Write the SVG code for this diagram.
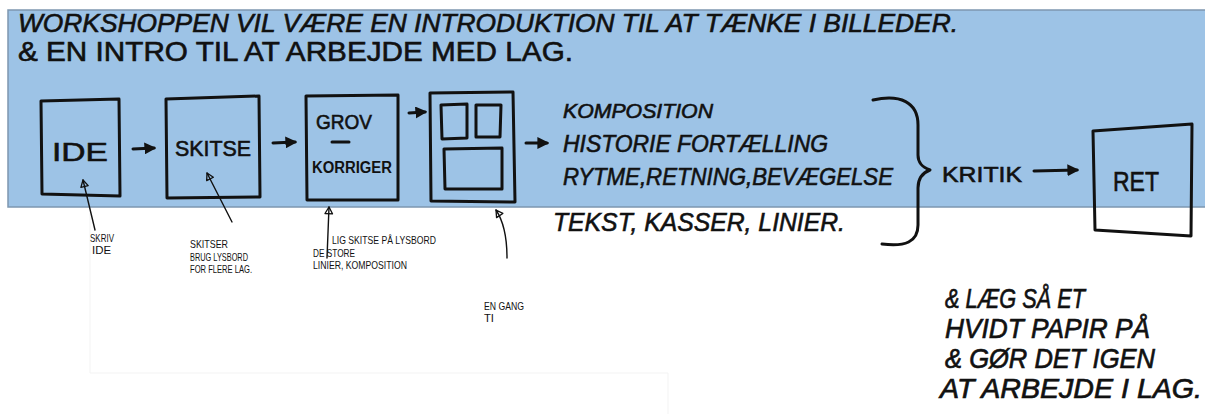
<svg xmlns="http://www.w3.org/2000/svg" width="1205" height="414" viewBox="0 0 1205 414">
<style>
.ink{fill:none;stroke:#111;stroke-width:3;stroke-linejoin:round;stroke-linecap:round}
.thin{fill:none;stroke:#111;stroke-width:1.4;stroke-linecap:round}
.hand{font-family:"Liberation Sans","DejaVu Sans",sans-serif;fill:#111;stroke:#111;stroke-width:0.6;font-weight:normal}
.b{font-weight:bold;stroke-width:0}
.it{font-style:italic}
.small{font-family:"Liberation Sans","DejaVu Sans",sans-serif;fill:#111;font-size:11.5px}
.big{font-family:"Liberation Sans","DejaVu Sans",sans-serif;fill:#111;stroke:#111;stroke-width:0.7;font-size:28px;font-style:italic}
</style>
<defs>
<marker id="ah" viewBox="0 0 10 10" refX="8" refY="5" markerWidth="4" markerHeight="4" orient="auto">
<path d="M0,0 L10,5 L0,10 Z" fill="#111"/>
</marker>
<marker id="oh" viewBox="0 0 12 12" refX="10" refY="6" markerWidth="10" markerHeight="10" orient="auto" markerUnits="userSpaceOnUse">
<path d="M2,1.5 L10,6 L2,10.5 Z" fill="none" stroke="#111" stroke-width="1.6" stroke-linejoin="round"/>
</marker>
</defs>
<rect x="0" y="0" width="1205" height="414" fill="#fff"/>
<path d="M90,207 L90,373 L668,373 L668,414" fill="none" stroke="#f3f3f3" stroke-width="1"/>
<rect id="band" x="8" y="10" width="1205" height="197" fill="#9dc3e6" stroke="#7d97b0" stroke-width="1.5"/>

<g id="title">
<text class="hand it" x="18" y="32" font-size="25" textLength="940" lengthAdjust="spacingAndGlyphs">WORKSHOPPEN VIL VÆRE EN INTRODUKTION TIL AT TÆNKE I BILLEDER.</text>
<text class="hand" x="18" y="61" font-size="27" textLength="555" lengthAdjust="spacingAndGlyphs">&amp; EN INTRO TIL AT ARBEJDE MED LAG.</text>
</g>

<g id="ide">
<path class="ink" d="M41,101 L119,99 L120,196 L42,194 Z"/>
<text class="hand" x="80" y="161" font-size="26" text-anchor="middle" textLength="56" lengthAdjust="spacingAndGlyphs">IDE</text>
</g>

<g id="skitse">
<path class="ink" d="M166,99 L259,96 L260,197 L167,198 Z"/>
<text class="hand" x="213" y="156" font-size="22" text-anchor="middle" textLength="76" lengthAdjust="spacingAndGlyphs">SKITSE</text>
</g>

<g id="grov">
<path class="ink" d="M306,96 L398,95 L398,200 L307,200 Z"/>
<text class="hand" x="316" y="129" font-size="20" textLength="56" lengthAdjust="spacingAndGlyphs">GROV</text>
<path class="ink" d="M332,142 L349,142"/>
<text class="hand b" x="312" y="173" font-size="16" textLength="80" lengthAdjust="spacingAndGlyphs">KORRIGER</text>
</g>

<g id="panel">
<path class="ink" d="M430,93 L513,92 L515,202 L431,201 Z"/>
<path class="ink" d="M441,105 L467,104 L467,138 L442,139 Z"/>
<path class="ink" d="M476,105 L501,105 L500,137 L476,137 Z"/>
<path class="ink" d="M444,149 L502,148 L502,189 L445,189 Z"/>
</g>

<g id="aspects">
<text class="hand it" x="563" y="118" font-size="20" textLength="150" lengthAdjust="spacingAndGlyphs">KOMPOSITION</text>
<text class="hand it" x="563" y="152" font-size="24" textLength="265" lengthAdjust="spacingAndGlyphs">HISTORIE FORTÆLLING</text>
<text class="hand it" x="563" y="185" font-size="24" textLength="330" lengthAdjust="spacingAndGlyphs">RYTME,RETNING,BEVÆGELSE</text>
<text class="hand it" x="553" y="231" font-size="26" textLength="292" lengthAdjust="spacingAndGlyphs">TEKST, KASSER, LINIER.</text>
</g>

<g id="brace">
<path class="ink" d="M873,100 C900,94 918,102 918,125 L918,155 C918,163 922,167 930,170 C922,173 918,178 918,188 L918,225 C918,242 905,247 882,244"/>
</g>

<g id="kritik">
<text class="hand" x="942" y="182" font-size="22" textLength="80" lengthAdjust="spacingAndGlyphs">KRITIK</text>
</g>

<g id="ret">
<path class="ink" d="M1093,131 L1192,124 L1191,236 L1095,230 Z"/>
<text class="hand" x="1136" y="191" font-size="28" text-anchor="middle" textLength="46" lengthAdjust="spacingAndGlyphs">RET</text>
</g>

<g id="connectors">
<path class="ink" d="M133,149 L154,148" marker-end="url(#ah)"/>
<path class="ink" d="M273,143 L295,142" marker-end="url(#ah)"/>
<path class="ink" d="M409,113 L425,112" marker-end="url(#ah)"/>
<path class="ink" d="M526,143 L547,143" marker-end="url(#ah)"/>
<path class="ink" d="M1034,171 L1077,170" marker-end="url(#ah)"/>
<path class="thin" d="M95,230 L83,180" marker-end="url(#oh)"/>
<path class="thin" d="M232,222 L207,173" marker-end="url(#oh)"/>
<path class="thin" d="M327,258 L329,207" marker-end="url(#oh)"/>
<path class="thin" d="M507,258 C507,236 504,222 496,210" marker-end="url(#oh)"/>
</g>

<g id="notes">
<text class="small" x="90" y="242" textLength="24" lengthAdjust="spacingAndGlyphs">SKRIV</text>
<text class="small" x="92" y="254" textLength="19" lengthAdjust="spacingAndGlyphs">IDE</text>
<text class="small" x="190" y="248" textLength="38" lengthAdjust="spacingAndGlyphs">SKITSER</text>
<text class="small" x="190" y="261" textLength="58" lengthAdjust="spacingAndGlyphs">BRUG LYSBORD</text>
<text class="small" x="190" y="273" textLength="62" lengthAdjust="spacingAndGlyphs">FOR FLERE LAG.</text>
<text class="small" x="332" y="244" textLength="104" lengthAdjust="spacingAndGlyphs">LIG SKITSE PÅ LYSBORD</text>
<text class="small" x="313" y="257" textLength="42" lengthAdjust="spacingAndGlyphs">DE STORE</text>
<text class="small" x="313" y="269" textLength="94" lengthAdjust="spacingAndGlyphs">LINIER, KOMPOSITION</text>
<text class="small" x="484" y="310" textLength="40" lengthAdjust="spacingAndGlyphs">EN GANG</text>
<text class="small" x="484" y="322" textLength="10" lengthAdjust="spacingAndGlyphs">TI</text>
</g>

<g id="again">
<text class="big" x="945" y="308" textLength="140" lengthAdjust="spacingAndGlyphs">&amp; LÆG SÅ ET</text>
<text class="big" x="945" y="338" textLength="205" lengthAdjust="spacingAndGlyphs">HVIDT PAPIR PÅ</text>
<text class="big" x="945" y="368" textLength="210" lengthAdjust="spacingAndGlyphs">&amp; GØR DET IGEN</text>
<text class="big" x="940" y="398" textLength="262" lengthAdjust="spacingAndGlyphs">AT ARBEJDE I LAG.</text>
</g>
</svg>
